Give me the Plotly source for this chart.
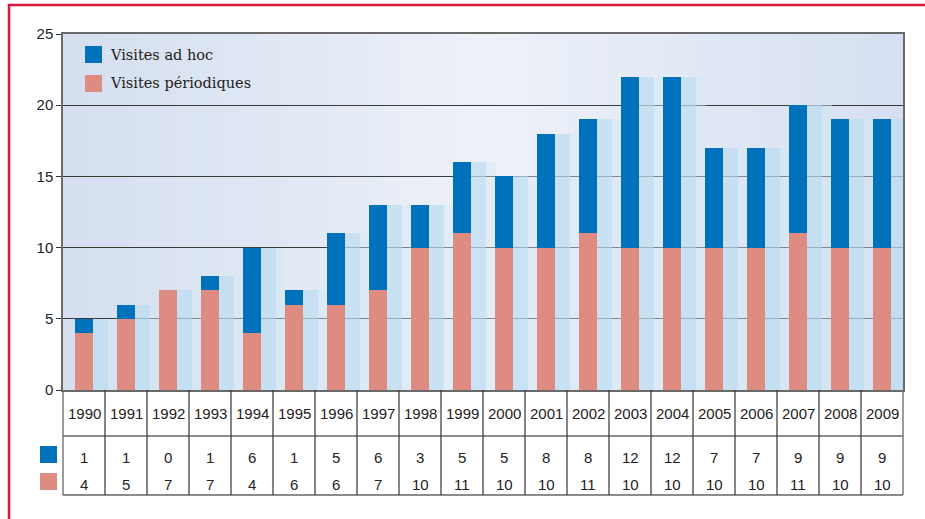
import plotly.graph_objects as go

years = ["1990","1991","1992","1993","1994","1995","1996","1997","1998","1999",
         "2000","2001","2002","2003","2004","2005","2006","2007","2008","2009"]
adhoc = [1, 1, 0, 1, 6, 1, 5, 6, 3, 5, 5, 8, 8, 12, 12, 7, 7, 9, 9, 9]
periodiques = [4, 5, 7, 7, 4, 6, 6, 7, 10, 11, 10, 10, 11, 10, 10, 10, 10, 11, 10, 10]
name_adhoc = "Visites ad hoc"
name_period = "Visites périodiques"
y_ticks = [0, 5, 10, 15, 20, 25]

BLUE = "#0072bc"
PINK = "#de8c82"
totals = [a + p for a, p in zip(adhoc, periodiques)]

W, H = 925, 519
L, R, T, B = 63, 22, 34, 129
PW, PH = W - L - R, H - T - B


def px(x):
    return (x - L) / PW


def py(y):
    return (H - B - y) / PH


fig = go.Figure()

# soft shadows right of bars
fig.add_trace(go.Bar(x=years, y=totals, width=0.6, offset=0.2,
                     marker=dict(color="#d3e8f6", line_width=0), opacity=0.45,
                     hoverinfo="skip", showlegend=False))
fig.add_trace(go.Bar(x=years, y=totals, width=0.36, offset=0.2,
                     marker=dict(color="#b4daf2", line_width=0), opacity=0.5,
                     hoverinfo="skip", showlegend=False))

fig.add_trace(go.Bar(x=years, y=periodiques, name=name_period, width=0.43, offset=-0.215,
                     marker=dict(color=PINK, line_width=0), showlegend=False))
fig.add_trace(go.Bar(x=years, y=adhoc, base=periodiques, name=name_adhoc, width=0.43, offset=-0.215,
                     marker=dict(color=BLUE, line_width=0), showlegend=False))

shapes = []
# background gradient in plot area
n = 60
c_left = (213, 223, 240)
c_mid = (238, 242, 249)
c_right = (214, 224, 242)
for i in range(n):
    t = (i + 0.5) / n
    if t < 0.5:
        u = t / 0.5
        c = [c_left[k] + (c_mid[k] - c_left[k]) * u for k in range(3)]
    else:
        u = (t - 0.5) / 0.5
        c = [c_mid[k] + (c_right[k] - c_mid[k]) * u for k in range(3)]
    shapes.append(dict(type="rect", xref="paper", yref="paper", x0=i / n, x1=(i + 1) / n + 0.002,
                       y0=0, y1=1, fillcolor="rgb(%d,%d,%d)" % tuple(int(v) for v in c),
                       line_width=0, layer="below"))

# table
gray = "#666666"
y_top = 0
y_mid = py(436)
y_bot = py(495)
shapes.append(dict(type="line", xref="paper", yref="paper", x0=0, x1=1, y0=y_mid, y1=y_mid,
                   line=dict(color=gray, width=1.3)))
shapes.append(dict(type="line", xref="paper", yref="paper", x0=0, x1=1, y0=y_bot, y1=y_bot,
                   line=dict(color=gray, width=1.3)))
shapes.append(dict(type="line", xref="paper", yref="paper", x0=0, x1=0, y0=y_top, y1=y_bot,
                   line=dict(color=gray, width=1.3)))
shapes.append(dict(type="line", xref="paper", yref="paper", x0=1, x1=1, y0=y_top, y1=y_bot,
                   line=dict(color=gray, width=1.3)))
for i in range(1, len(years)):
    shapes.append(dict(type="line", xref="x", yref="paper", x0=i - 0.5, x1=i - 0.5,
                       y0=y_top, y1=y_bot, line=dict(color="#333333", width=1.2)))

# table legend squares
shapes.append(dict(type="rect", xref="paper", yref="paper", x0=px(40), x1=px(57),
                   y0=py(463), y1=py(446), fillcolor=BLUE, line_width=0))
shapes.append(dict(type="rect", xref="paper", yref="paper", x0=px(40), x1=px(57),
                   y0=py(490), y1=py(473), fillcolor=PINK, line_width=0))

# chart legend squares
shapes.append(dict(type="rect", xref="paper", yref="paper", x0=px(85), x1=px(102),
                   y0=py(63), y1=py(46), fillcolor=BLUE, line_width=0))
shapes.append(dict(type="rect", xref="paper", yref="paper", x0=px(85), x1=px(102),
                   y0=py(92), y1=py(75), fillcolor=PINK, line_width=0))

# red frame
RED = "#d8193b"
shapes.append(dict(type="line", xref="paper", yref="paper", x0=px(9), x1=px(9),
                   y0=py(4), y1=py(519), line=dict(color=RED, width=2.5)))
shapes.append(dict(type="line", xref="paper", yref="paper", x0=px(8), x1=px(925),
                   y0=py(5), y1=py(5), line=dict(color=RED, width=2.5)))

annotations = []
tfont = dict(family="Liberation Sans, Arial, sans-serif", size=15, color="#222222")
for i, yr in enumerate(years):
    annotations.append(dict(x=i, y=py(413), xref="x", yref="paper", text=yr, showarrow=False,
                            font=tfont, xanchor="center", yanchor="middle"))
    annotations.append(dict(x=i, y=py(457), xref="x", yref="paper", text=str(adhoc[i]),
                            showarrow=False, font=tfont, xanchor="center", yanchor="middle"))
    annotations.append(dict(x=i, y=py(484), xref="x", yref="paper", text=str(periodiques[i]),
                            showarrow=False, font=tfont, xanchor="center", yanchor="middle"))

lfont = dict(family="DejaVu Serif, serif", size=14.5, color="#222222")
annotations.append(dict(x=px(108), y=py(55), xref="paper", yref="paper", text=name_adhoc,
                        showarrow=False, font=lfont, xanchor="left", yanchor="middle"))
annotations.append(dict(x=px(108), y=py(83), xref="paper", yref="paper", text=name_period,
                        showarrow=False, font=lfont, xanchor="left", yanchor="middle"))

fig.update_layout(
    width=W, height=H,
    margin=dict(l=L, r=R, t=T, b=B, pad=0),
    paper_bgcolor="white",
    plot_bgcolor="rgba(0,0,0,0)",
    barmode="overlay",
    bargap=0,
    shapes=shapes,
    annotations=annotations,
    showlegend=False,
    xaxis=dict(type="category", range=[-0.5, len(years) - 0.5], showticklabels=False,
               showgrid=False, zeroline=False, showline=True, mirror=True,
               linecolor="#6a6a6a", linewidth=1.5, ticks=""),
    yaxis=dict(range=[0, 25], tickvals=y_ticks, showgrid=True, gridcolor="#3a3a3a", gridwidth=1,
               zeroline=False, showline=True, mirror=True, linecolor="#6a6a6a", linewidth=1.5,
               ticks="outside", ticklen=5, tickcolor="#333333",
               tickfont=dict(family="Liberation Sans, Arial, sans-serif", size=15, color="#222222")),
)

fig.write_html("out.html", config={"displayModeBar": False},
               post_script="document.body.style.margin='0';")
